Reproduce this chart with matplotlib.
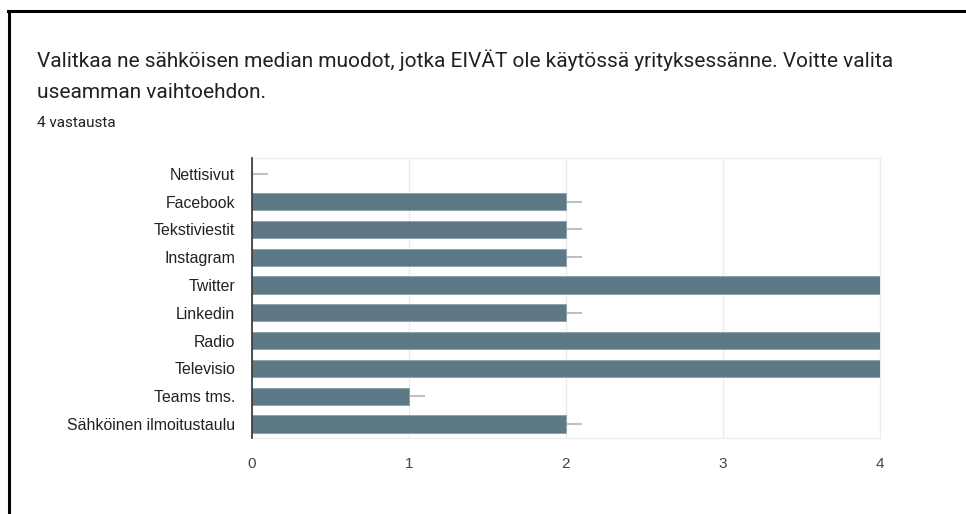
import matplotlib.pyplot as plt
from matplotlib.lines import Line2D

# data
categories = ['Nettisivut', 'Facebook', 'Tekstiviestit', 'Instagram', 'Twitter',
              'Linkedin', 'Radio', 'Televisio', 'Teams tms.', 'Sähköinen ilmoitustaulu']
counts = [0, 2, 2, 2, 4, 2, 4, 4, 1, 2]
xticks = [0, 1, 2, 3, 4]

title_lines = ['Valitkaa ne sähköisen median muodot, jotka EIVÄT ole käytössä yrityksessänne. Voitte valita',
               'useamman vaihtoehdon.']
subtitle = '4 vastausta'

W, H = 966, 514
fig = plt.figure(figsize=(W / 100, H / 100), dpi=100)
fig.patch.set_facecolor('white')

# black frame at top and left (screenshot edge)
fig.add_artist(Line2D([8 / W, 1], [1 - 11 / H, 1 - 11 / H], color='black', lw=2.2,
                      transform=fig.transFigure))
fig.add_artist(Line2D([8.5 / W, 8.5 / W], [0, 1 - 11 / H], color='black', lw=2.2,
                      transform=fig.transFigure))

for i, line in enumerate(title_lines):
    fig.text(37 / W, 1 - (60 + 32 * i) / H, line, fontsize=15, family='Roboto',
             color='#202124', va='center', ha='left')
fig.text(37 / W, 1 - 123 / H, subtitle, fontsize=11, family='Roboto', color='#202124',
         va='center', ha='left')

left, right, top, bottom = 252, 880, 158, 438
ax = fig.add_axes([left / W, 1 - bottom / H, (right - left) / W, (bottom - top) / H])

y = list(range(len(categories)))
ax.barh(y, counts, height=0.62, color='#5d7986', edgecolor='#8aa0aa', linewidth=0.6, zorder=3)
# short grey label stems after each bar
ax.hlines(y, counts, [c + 0.1 for c in counts], color='#c0c0c0', lw=1.5, zorder=2)

ax.set_xlim(0, 4)
ax.set_ylim(9.5, -0.57)
ax.set_xticks(xticks)
ax.set_xticklabels([str(t) for t in xticks], fontsize=11, family='Liberation Sans', color='#444444')
ax.set_yticks(y)
ax.set_yticklabels(categories, fontsize=11.4, family='Liberation Sans', color='#222222')
ax.tick_params(axis='y', length=0, pad=12)
ax.tick_params(axis='x', length=0, pad=14)

ax.grid(axis='x', color='#ebebeb', lw=1, zorder=0)
for s in ['top', 'right', 'bottom']:
    ax.spines[s].set_color('#ebebeb')
ax.spines['left'].set_color('#333333')
ax.spines['left'].set_linewidth(1.2)
ax.spines['left'].set_zorder(4)

plt.savefig('out.png', dpi=100)
